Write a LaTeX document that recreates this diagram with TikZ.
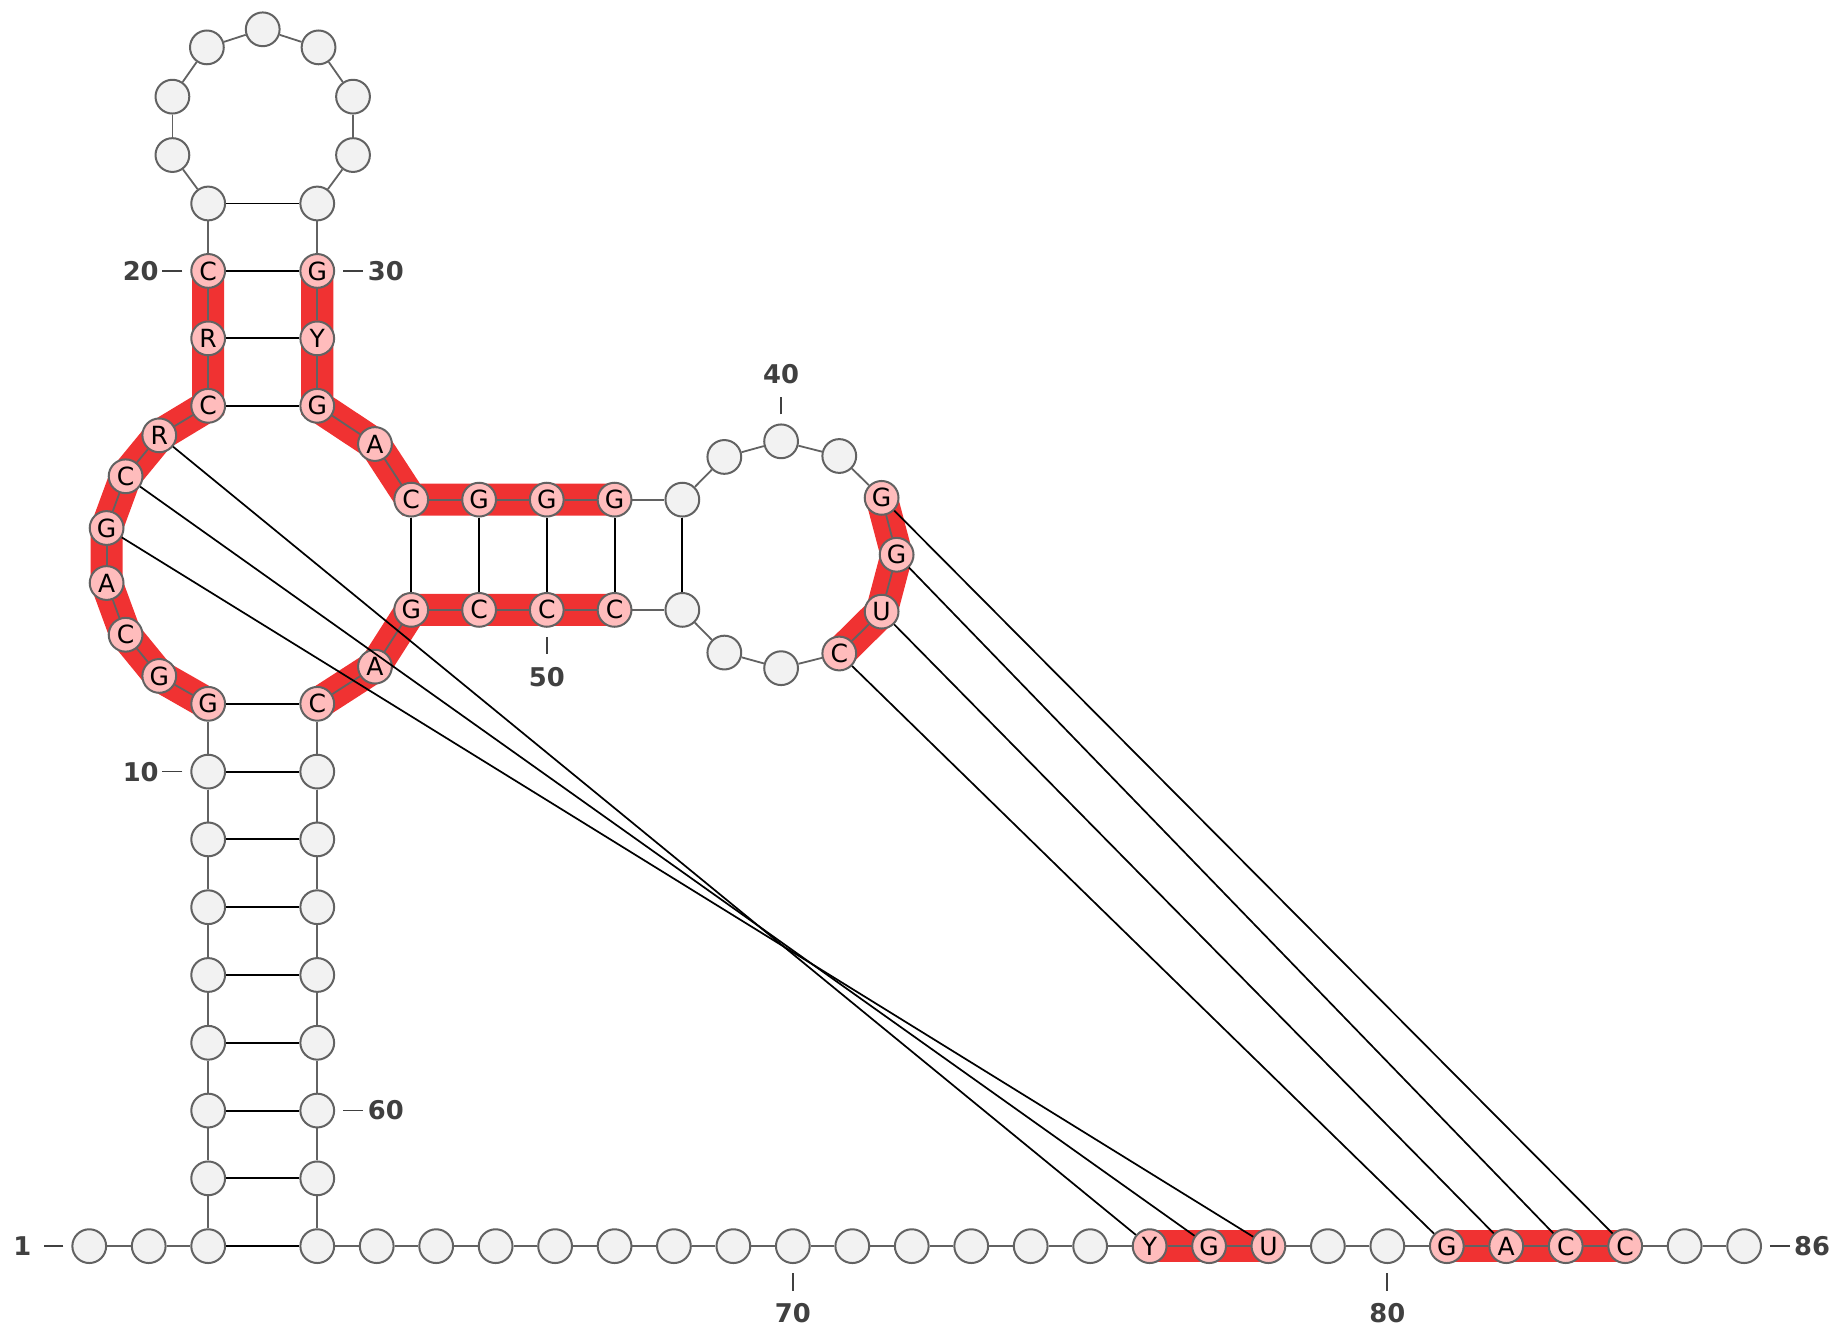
\documentclass[tikz,border=0pt]{standalone}
\usepackage{fontspec}
\usepackage{tikz}
\usetikzlibrary{backgrounds}
\newfontfamily\dejavu{DejaVu Sans}
\definecolor{ntline}{RGB}{98,98,98}
\definecolor{ntfill}{RGB}{242,242,242}
\definecolor{hlfill}{RGB}{255,188,188}
\definecolor{bandred}{RGB}{240,50,50}
\definecolor{numgray}{RGB}{64,64,64}
\newcommand{\ntletter}{\dejavu\fontsize{16pt}{18pt}\selectfont}
\newcommand{\ntnumber}{\dejavu\bfseries\fontsize{16.5pt}{18pt}\selectfont}
\tikzset{
  nt/.style={circle, draw=ntline, fill=ntfill, line width=1.28pt, minimum size=21.6pt, inner sep=0pt, font=\ntletter},
  hl/.style={nt, fill=hlfill},
  bb/.style={draw=ntline, line width=1.15pt},
  bp/.style={draw=black, line width=1.2pt},
  pk/.style={draw=black, line width=1.1pt},
  hlband/.style={draw=bandred, line width=20.5pt, line join=miter, line cap=butt},
  numlabel/.style={font=\ntnumber, text=numgray, inner sep=0pt},
  numtick/.style={draw=numgray, line width=1.1pt}
}
\begin{document}
\begin{tikzpicture}[x=0.75pt,y=0.75pt,yscale=-1,xscale=1]
\useasboundingbox (0,0) rectangle (1568,1140);

%Nucleotides 1-3
\node[nt] (n1) at (76.1,1062.5) {};
\node[nt] (n2) at (126.8,1062.5) {};
\node[nt] (n3) at (177.5,1062.5) {};
%Stem 4-11
\node[nt] (n4) at (177.5,1004.7) {};
\node[nt] (n5) at (177.5,946.9) {};
\node[nt] (n6) at (177.5,889.1) {};
\node[nt] (n7) at (177.5,831.3) {};
\node[nt] (n8) at (177.5,773.5) {};
\node[nt] (n9) at (177.5,715.7) {};
\node[nt] (n10) at (177.5,657.9) {};
\node[hl] (n11) at (177.5,600.1) {G};
%Internal loop 12-17
\node[hl] (n12) at (135.8,576.3) {G};
\node[hl] (n13) at (107.1,541.2) {C};
\node[hl] (n14) at (90.9,497.1) {A};
\node[hl] (n15) at (90.9,450.2) {G};
\node[hl] (n16) at (107.1,406.1) {C};
\node[hl] (n17) at (135.8,371.2) {R};
%Stem 18-21
\node[hl] (n18) at (177.5,346) {C};
\node[hl] (n19) at (177.5,288.5) {R};
\node[hl] (n20) at (177.5,231) {C};
\node[nt] (n21) at (177.5,173.5) {};
%Hairpin 22-28
\node[nt] (n22) at (147,132.2) {};
\node[nt] (n23) at (147,82.4) {};
\node[nt] (n24) at (176.4,40.4) {};
\node[nt] (n25) at (224,25) {};
\node[nt] (n26) at (271.6,40.4) {};
\node[nt] (n27) at (301,82.4) {};
\node[nt] (n28) at (301,132.2) {};
%Stem 29-32
\node[nt] (n29) at (270.5,173.5) {};
\node[hl] (n30) at (270.5,231) {G};
\node[hl] (n31) at (270.5,288.5) {Y};
\node[hl] (n32) at (270.5,346) {G};
\node[hl] (n33) at (319.7,378.6) {A};
%Stem 34-38
\node[hl] (n34) at (350.6,426) {C};
\node[hl] (n35) at (408.5,426) {G};
\node[hl] (n36) at (466.2,426) {G};
\node[hl] (n37) at (524,426) {G};
\node[nt] (n38) at (581.8,426) {};
%Loop 39-47
\node[nt] (n39) at (617.6,389.6) {};
\node[nt] (n40) at (666,376.3) {};
\node[nt] (n41) at (715.6,388.8) {};
\node[hl] (n42) at (751.7,424.5) {G};
\node[hl] (n43) at (764.5,473) {G};
\node[hl] (n44) at (751.7,521.5) {U};
\node[hl] (n45) at (715.6,557.2) {C};
\node[nt] (n46) at (666,569.7) {};
\node[nt] (n47) at (617.6,556.4) {};
%Stem 48-52
\node[nt] (n48) at (581.8,520) {};
\node[hl] (n49) at (524,520) {C};
\node[hl] (n50) at (466.2,520) {C};
\node[hl] (n51) at (408.5,520) {C};
\node[hl] (n52) at (350.6,520) {G};
\node[hl] (n53) at (319.7,568.4) {A};
%Stem 54-62
\node[hl] (n54) at (270.5,600.1) {C};
\node[nt] (n55) at (270.5,657.9) {};
\node[nt] (n56) at (270.5,715.7) {};
\node[nt] (n57) at (270.5,773.5) {};
\node[nt] (n58) at (270.5,831.3) {};
\node[nt] (n59) at (270.5,889.1) {};
\node[nt] (n60) at (270.5,946.9) {};
\node[nt] (n61) at (270.5,1004.7) {};
\node[nt] (n62) at (270.5,1062.5) {};
%Tail 63-86
\node[nt] (n63) at (321.2,1062.5) {};
\node[nt] (n64) at (371.9,1062.5) {};
\node[nt] (n65) at (422.6,1062.5) {};
\node[nt] (n66) at (473.3,1062.5) {};
\node[nt] (n67) at (524,1062.5) {};
\node[nt] (n68) at (574.6,1062.5) {};
\node[nt] (n69) at (625.3,1062.5) {};
\node[nt] (n70) at (676,1062.5) {};
\node[nt] (n71) at (726.7,1062.5) {};
\node[nt] (n72) at (777.4,1062.5) {};
\node[nt] (n73) at (828.1,1062.5) {};
\node[nt] (n74) at (878.8,1062.5) {};
\node[nt] (n75) at (929.5,1062.5) {};
\node[hl] (n76) at (980.2,1062.5) {Y};
\node[hl] (n77) at (1030.9,1062.5) {G};
\node[hl] (n78) at (1081.5,1062.5) {U};
\node[nt] (n79) at (1132.2,1062.5) {};
\node[nt] (n80) at (1182.9,1062.5) {};
\node[hl] (n81) at (1233.6,1062.5) {G};
\node[hl] (n82) at (1284.3,1062.5) {A};
\node[hl] (n83) at (1335,1062.5) {C};
\node[hl] (n84) at (1385.7,1062.5) {C};
\node[nt] (n85) at (1436.4,1062.5) {};
\node[nt] (n86) at (1487.1,1062.5) {};

%Highlighted segments
\begin{scope}[on background layer]
\draw[hlband] (n11.center) -- (n12.center) -- (n13.center) -- (n14.center) -- (n15.center) -- (n16.center) -- (n17.center) -- (n18.center) -- (n19.center) -- (n20.center);
\draw[hlband] (n30.center) -- (n31.center) -- (n32.center) -- (n33.center) -- (n34.center) -- (n35.center) -- (n36.center) -- (n37.center);
\draw[hlband] (n42.center) -- (n43.center) -- (n44.center) -- (n45.center);
\draw[hlband] (n49.center) -- (n50.center) -- (n51.center) -- (n52.center) -- (n53.center) -- (n54.center);
\draw[hlband] (n76.center) -- (n77.center) -- (n78.center);
\draw[hlband] (n81.center) -- (n82.center) -- (n83.center) -- (n84.center);
\end{scope}

%Backbone
\foreach \i [count=\j from 2] in {1,...,85}
  \draw[bb] (n\i) -- (n\j);

%Base pairs
\foreach \a/\b in {3/62,4/61,5/60,6/59,7/58,8/57,9/56,10/55,11/54,18/32,19/31,20/30,21/29,34/52,35/51,36/50,37/49,38/48}
  \draw[bp] (n\a) -- (n\b);

%Pseudoknot pairs
\foreach \a/\b in {15/78,16/77,17/76,42/84,43/83,44/82,45/81}
  \draw[pk] (n\a) -- (n\b);

%Numbering
\draw[numtick] (n1) ++(-22,0) -- ++(-17,0);
\draw[numtick] (n10) ++(-22,0) -- ++(-17,0);
\draw[numtick] (n20) ++(-22,0) -- ++(-17,0);
\draw[numtick] (n30) ++(22,0) -- ++(17,0);
\draw[numtick] (n60) ++(22,0) -- ++(17,0);
\draw[numtick] (n86) ++(22,0) -- ++(17,0);
\draw[numtick] (n40) ++(0,-23) -- ++(0,-15);
\draw[numtick] (n50) ++(0,23) -- ++(0,15);
\draw[numtick] (n70) ++(0,23) -- ++(0,15);
\draw[numtick] (n80) ++(0,23) -- ++(0,15);

% Text Node
\path (n1) ++(-57,0) node[numlabel] (l1) {1};
\path (n10) ++(-57.5,0) node[numlabel] (l10) {10};
\path (n20) ++(-57.5,0) node[numlabel] (l20) {20};
\path (n30) ++(58.5,0) node[numlabel] (l30) {30};
\path (n60) ++(58.5,0) node[numlabel] (l60) {60};
\path (n86) ++(58,0) node[numlabel] (l86) {86};
\path (n40) ++(0,-57.5) node[numlabel] (l40) {40};
\path (n50) ++(0,57.5) node[numlabel] (l50) {50};
\path (n70) ++(0,57.5) node[numlabel] (l70) {70};
\path (n80) ++(0,57.5) node[numlabel] (l80) {80};

\end{tikzpicture}
\end{document}
